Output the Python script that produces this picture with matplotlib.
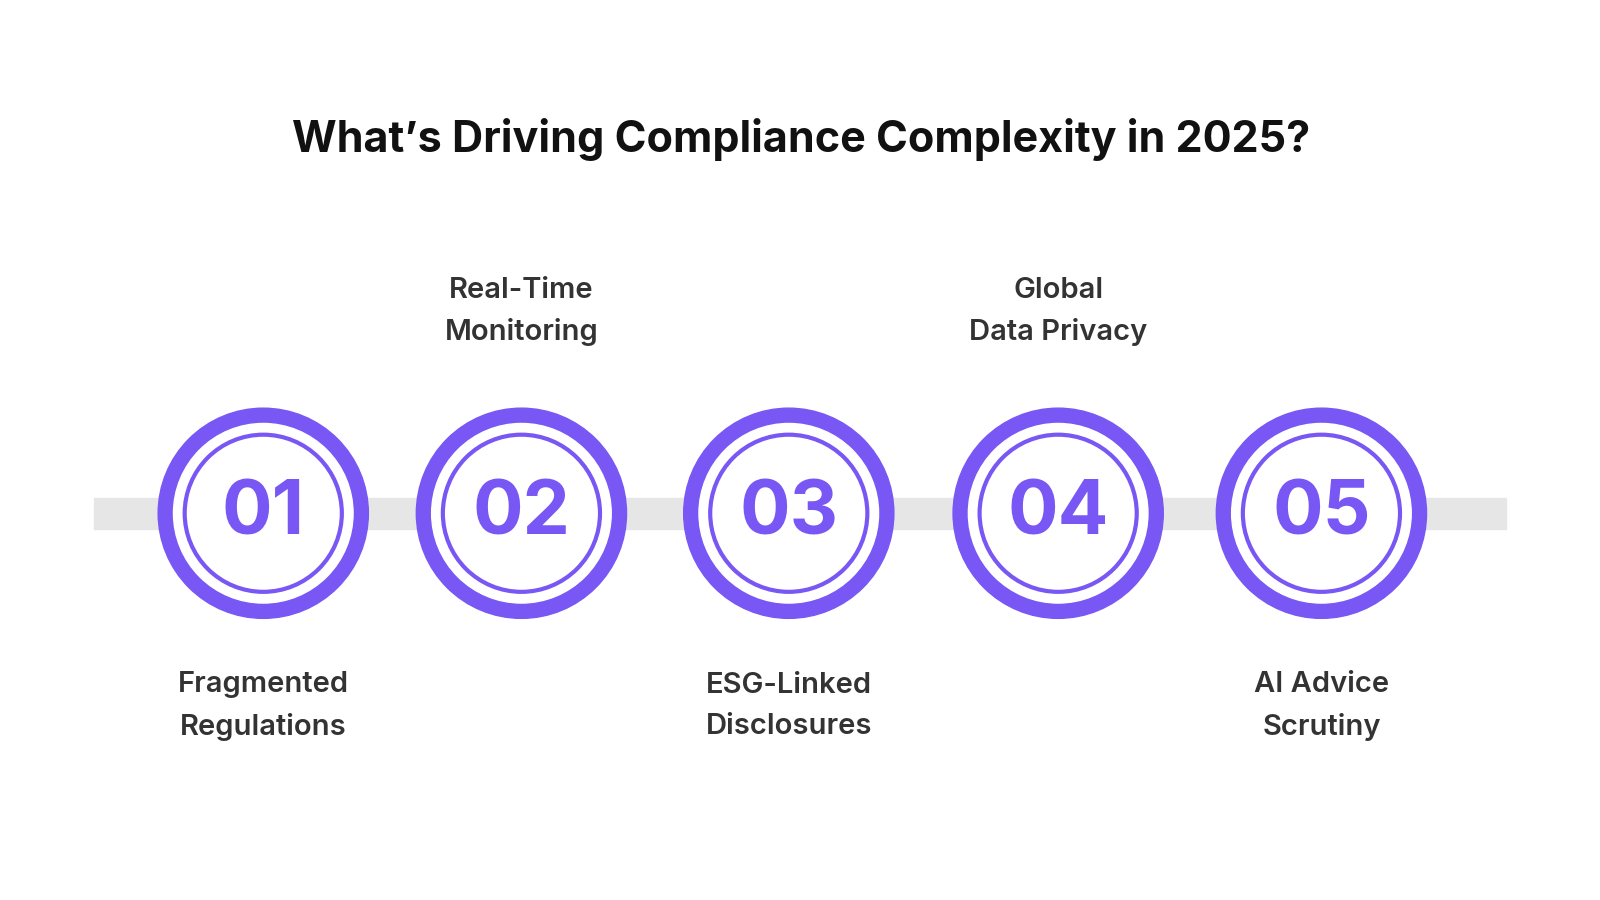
import matplotlib
matplotlib.use("Agg")
from matplotlib import pyplot as plt
from matplotlib.patches import Circle, Rectangle

title = "What’s Driving Compliance Complexity in 2025?"
numbers = ["01", "02", "03", "04", "05"]
labels = ["Fragmented\nRegulations", "Real-Time\nMonitoring", "ESG-Linked\nDisclosures",
          "Global\nData Privacy", "AI Advice\nScrutiny"]
label_above = [False, True, False, True, False]
centers_x = [258, 511, 773, 1037, 1295]

PURPLE = "#7857f5"
FONT = "Inter"

fig = plt.figure(figsize=(16, 9), dpi=100)
ax = fig.add_axes([0, 0, 1, 1])
# coordinates measured on a 1568x882 view of the reference
ax.set_xlim(0, 1568)
ax.set_ylim(882, 0)
ax.set_aspect("equal")
ax.axis("off")

cy = 503
ax.add_patch(Rectangle((92, 488), 1384, 30, color="#e6e6e6", zorder=1))

for x, num, lab, above in zip(centers_x, numbers, labels, label_above):
    ax.add_patch(Circle((x, cy), 103, color=PURPLE, zorder=2))
    ax.add_patch(Circle((x, cy), 88, color="white", zorder=3))
    ax.add_patch(Circle((x, cy), 77, fill=False, ec=PURPLE, lw=3, zorder=4))
    ax.text(x, cy + 2, num, ha="center", va="center", fontsize=54, fontweight="bold",
            color=PURPLE, family=FONT, zorder=5)
    ly = 305 if above else 692
    ax.text(x, ly, lab, ha="center", va="center", fontsize=21, fontweight="semibold",
            color="#333333", family=FONT, linespacing=1.65)

ax.text(785, 137, title, ha="center", va="center", fontsize=31, fontweight="bold",
        color="#111111", family=FONT)

fig.savefig("out.png", dpi=100, facecolor="white")
